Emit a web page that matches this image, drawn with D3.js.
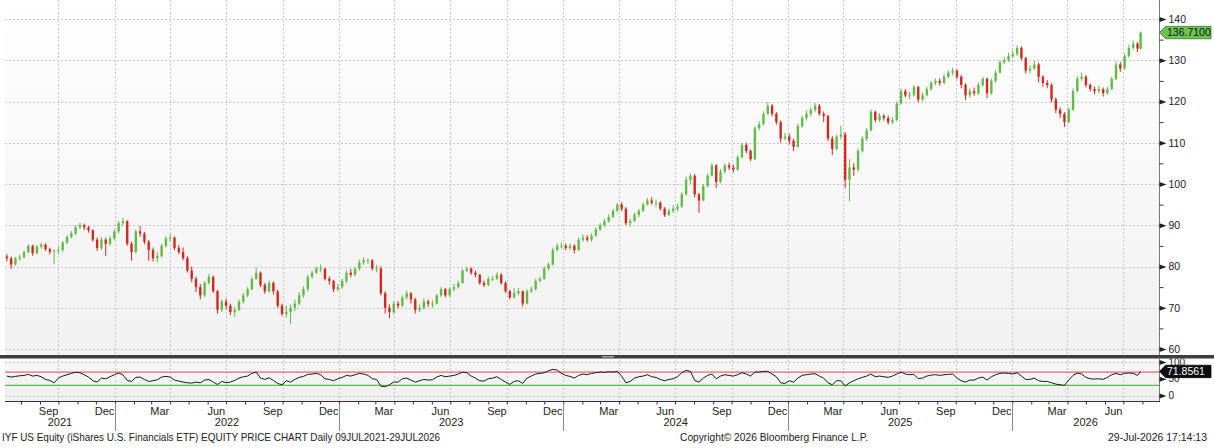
<!DOCTYPE html>
<html>
<head>
<meta charset="utf-8">
<script src="https://cdn.jsdelivr.net/npm/d3@7"></script>
<style>
html, body { margin: 0; padding: 0; background: #fff; }
svg { display: block; font-family: "Liberation Sans", Arial, sans-serif; }
</style>
</head>
<body>
<svg id="chart" width="1214" height="448"></svg>
<script>
// Weekly candles (Friday closes, last one is 29 Jul 2026)
const close2021 = [82.0,80.5,82.0,82.3,83.5,85.0,83.2,84.8,85.3,84.2,83.6,83.8,84.0,85.8,87.2,88.0,89.5,90.0,89.5,88.8,86.5,84.5,86.5,85.5,86.8,88.5];
const close2022 = [90.5,91.0,85.5,83.5,88.5,88.0,86.0,84.0,82.0,82.5,85.0,86.8,87.0,84.5,83.5,82.0,79.0,77.0,75.0,73.0,76.0,77.5,74.0,69.5,71.5,70.5,69.0,69.5,71.5,73.0,74.5,77.0,78.5,75.5,74.0,76.0,74.0,70.5,68.5,69.0,70.0,71.0,73.0,74.5,77.5,78.5,79.5,79.5,77.0,76.5,74.5,75.0];
const close2023 = [76.5,78.5,78.0,79.5,81.0,81.5,81.5,79.5,79.5,73.5,70.0,69.0,71.0,70.5,72.5,73.5,72.0,69.5,70.0,71.5,71.0,71.0,73.0,74.5,73.0,74.5,75.0,76.0,79.0,79.5,78.5,78.0,76.0,75.5,77.0,77.0,78.0,76.0,74.0,72.5,73.5,74.0,71.0,74.0,74.5,76.5,77.0,79.5,80.5,84.0,85.0,85.0];
const close2024 = [84.5,85.0,84.0,86.5,87.0,86.5,87.5,89.0,90.0,91.0,92.0,93.5,95.0,94.0,90.5,91.0,92.5,93.5,95.0,96.0,95.5,95.5,94.0,92.5,93.5,94.0,94.5,97.5,101.0,102.0,97.5,96.0,99.5,102.0,104.5,100.5,103.0,104.5,104.0,103.5,106.5,109.5,108.0,106.0,113.5,114.5,117.0,119.0,117.0,115.0,111.0,111.5];
const close2025 = [110.5,109.0,114.0,116.0,117.0,118.0,119.0,117.0,116.5,111.0,108.5,111.5,112.0,101.0,104.0,103.5,108.0,111.0,113.0,117.5,115.5,116.5,116.0,115.0,115.5,119.5,122.5,121.5,121.5,123.5,120.5,121.5,123.0,124.5,125.0,124.5,126.0,127.0,127.5,126.0,124.0,121.5,122.5,122.0,124.0,125.5,122.0,125.0,127.0,129.5,130.0,131.0];
const close2026 = [131.5,133.0,130.5,127.5,128.0,129.0,126.0,124.5,124.0,120.5,118.0,117.0,115.0,118.0,122.5,125.5,126.0,124.0,123.0,122.5,123.0,122.0,123.0,125.5,129.0,128.0,131.0,133.0,134.0,132.8,136.71];

const high2021 = [83.0,82.4,82.3,82.9,83.9,85.4,85.3,85.2,85.8,85.6,84.6,84.2,84.8,86.2,87.6,88.6,90.0,90.6,90.4,89.9,89.0,87.0,87.2,87.0,87.4,89.0];
const high2022 = [91.0,91.8,91.2,86.0,89.0,89.8,88.4,86.4,84.6,83.5,85.6,87.4,87.8,87.3,85.2,84.6,82.5,80.0,77.5,75.8,76.5,78.2,77.8,74.3,72.0,72.2,71.0,70.2,72.0,73.6,75.0,77.6,79.8,78.8,76.0,76.6,76.4,74.3,71.0,70.5,70.8,72.0,73.8,75.2,78.0,79.0,80.0,80.5,79.6,77.6,76.8,75.8];
const high2023 = [77.0,79.0,79.4,80.0,81.6,82.2,82.0,81.8,80.4,80.0,74.0,70.8,71.6,71.6,73.0,74.2,73.8,72.4,70.8,72.2,72.0,71.8,73.4,75.0,74.8,75.0,75.8,76.6,79.4,80.0,79.8,79.0,78.2,76.6,77.6,77.8,78.6,78.4,76.4,74.4,74.8,74.8,74.2,74.5,75.2,77.0,77.6,80.0,81.0,84.6,85.6,85.8];
const high2024 = [85.6,85.6,85.4,87.0,87.8,87.6,88.0,89.5,90.5,91.6,92.6,94.0,95.4,95.6,94.4,91.6,93.0,94.0,95.5,96.6,96.8,96.2,95.8,94.4,94.0,94.8,95.2,98.0,101.8,102.6,102.4,97.8,100.0,102.6,105.0,104.8,103.6,105.0,105.2,104.6,107.0,110.0,110.0,108.4,114.0,115.2,117.6,119.8,119.4,117.4,115.4,112.4];
const high2025 = [112.2,111.0,114.6,116.6,117.8,118.6,119.6,119.4,117.6,116.8,111.6,112.0,114.2,112.6,106.0,105.0,108.6,111.6,113.6,118.0,117.8,117.2,117.0,116.6,116.2,120.0,123.0,123.0,122.4,124.0,123.8,122.2,123.6,125.0,125.6,125.6,126.6,127.6,128.2,127.8,126.4,124.4,123.2,123.4,124.6,126.0,125.8,125.6,127.6,130.0,130.8,131.8];
const high2026 = [132.4,133.6,133.4,130.8,128.8,129.8,129.4,126.4,125.2,124.4,121.0,118.6,117.4,118.6,123.2,126.2,127.0,126.4,124.4,123.6,123.8,123.4,123.6,126.0,129.8,129.6,131.6,133.8,134.8,134.4,137.0];

const low2021 = [81.2,79.4,80.2,81.4,81.9,83.2,82.6,82.9,84.3,83.8,83.0,80.6,83.0,83.6,85.4,86.8,87.6,89.0,88.8,88.2,86.0,83.8,84.0,82.6,85.0,86.4];
const low2022 = [88.0,89.8,85.0,81.4,83.2,87.2,85.4,81.4,81.2,81.0,82.2,84.6,86.0,84.0,83.0,81.5,78.5,76.2,73.8,72.0,72.6,75.6,73.6,68.6,69.0,69.6,68.2,67.8,69.2,71.0,72.6,74.2,76.8,75.0,73.4,73.6,73.2,70.0,68.0,67.6,66.0,69.2,70.6,72.4,74.0,77.0,78.2,78.6,76.6,75.6,73.8,74.0];
const low2023 = [74.6,76.0,77.4,77.6,79.0,80.4,80.6,79.0,78.6,73.0,68.6,67.5,68.4,69.8,70.2,72.0,71.0,68.6,69.0,69.6,70.2,70.0,70.8,72.6,72.6,72.6,74.0,74.6,75.8,78.6,78.0,77.4,75.6,75.0,75.2,76.4,76.8,75.6,73.6,72.0,72.2,73.0,70.3,70.8,73.6,74.2,76.2,76.8,79.0,80.2,83.6,84.4];
const low2024 = [84.0,84.0,83.2,83.8,86.0,86.0,86.0,87.2,88.6,89.6,90.6,91.8,93.2,93.4,90.0,89.6,90.8,92.0,93.2,94.8,95.0,94.4,93.6,92.0,92.2,93.0,93.4,94.2,97.2,100.0,96.8,93.0,95.8,99.2,101.8,99.0,100.2,102.6,103.4,102.8,103.2,106.2,107.4,105.6,105.8,113.0,114.2,116.8,116.4,114.4,110.0,110.6];
const low2025 = [109.6,108.0,108.8,113.6,115.4,116.4,117.4,116.6,115.0,110.4,107.0,108.2,110.8,99.0,95.8,102.0,103.0,107.6,110.4,112.8,115.0,115.0,115.4,114.4,114.6,115.2,119.2,121.0,120.6,121.2,119.8,120.0,121.2,122.6,124.0,123.8,124.2,125.6,126.4,125.4,123.2,120.4,121.0,121.4,121.6,123.6,120.8,121.6,124.6,126.8,129.0,129.6];
const low2026 = [130.4,131.0,130.0,126.8,126.8,127.6,124.6,123.6,123.2,119.8,117.2,116.0,113.8,114.8,117.8,122.2,125.0,123.4,122.4,121.8,122.0,121.2,121.6,122.8,125.2,127.2,127.8,130.6,132.6,132.0,132.6];

// RSI panel, same weeks
const rsi2021 = [58,55,57,59,60,63,58,60,56,48,45,38,52,58,62,66,69,68,62,55,44,40,52,50,56,62];
const rsi2022 = [67,62,45,42,54,55,48,42,44,47,55,57,55,46,43,40,38,37,40,38,46,48,40,33,42,38,40,45,52,56,58,66,70,52,48,53,45,36,32,44,40,48,54,57,63,64,66,62,50,48,44,50];
const rsi2023 = [54,60,58,62,66,64,60,50,48,28,26,32,40,40,50,52,46,40,44,48,46,47,55,60,56,58,60,64,70,68,58,52,44,43,50,52,56,48,40,33,42,44,36,52,58,64,66,68,74,78,76,66];
const rsi2024 = [60,57,52,60,64,62,66,68,70,69,71,70,72,58,38,42,52,56,58,62,56,54,48,44,48,50,56,68,75,72,45,40,52,60,64,50,58,62,60,58,62,68,64,58,70,70,72,72,64,56,38,36];
const rsi2025 = [44,40,52,60,62,64,65,58,52,38,32,44,44,28,38,44,50,54,58,64,56,58,56,54,58,64,70,64,62,63,50,52,58,61,62,60,62,63,64,52,44,40,46,46,52,55,46,56,62,66,67,66];
const rsi2026 = [64,68,58,48,48,52,44,42,42,38,34,32,30,46,60,67,64,54,50,49,50,48,54,62,66,62,66,67,66,60,71.8561];

const priceTicks = [60, 70, 80, 90, 100, 110, 120, 130, 140];
const rsiTicks = [0, 50, 100];
const monthLabels = ["Mar", "Jun", "Sep", "Dec"];
const titleText = "IYF US Equity (iShares U.S. Financials ETF) EQUITY PRICE CHART Daily 09JUL2021-29JUL2026";
const copyText = "Copyright\u00A9 2026 Bloomberg Finance L.P.";
const stampText = "29-Jul-2026 17:14:13";

const closes = [].concat(close2021, close2022, close2023, close2024, close2025, close2026);
const highs = [].concat(high2021, high2022, high2023, high2024, high2025, high2026);
const lows = [].concat(low2021, low2022, low2023, low2024, low2025, low2026);
const rsis = [].concat(rsi2021, rsi2022, rsi2023, rsi2024, rsi2025, rsi2026);

const firstWeek = new Date(2021, 6, 9);
const lastDay = new Date(2026, 6, 29);

const data = closes.map((c, i) => ({
    date: i < closes.length - 1 ? d3.timeDay.offset(firstWeek, 7 * i) : lastDay,
    open: i === 0 ? 82.4 : closes[i - 1],
    close: c,
    high: highs[i],
    low: lows[i],
    rsi: rsis[i]
}));

// layout
const plotL = 5, plotR = 1159;
const mainBot = 355, rsiTop = 358.5, rsiBot = 401.5;
const green = "#62bb47", red = "#d3291f";
const font = '"Liberation Sans", Arial, sans-serif';

const x = d3.scaleTime()
    .domain([new Date(2021, 6, 6), new Date(2026, 7, 28)])
    .range([plotL, plotR]);
const y = d3.scaleLinear().domain([60, 140]).range([349, 19]);
const yr = d3.scaleLinear().domain([0, 100]).range([395.5, 362]);

const svg = d3.select("#chart");
const defs = svg.append("defs");

const g1 = defs.append("linearGradient").attr("id", "bgMain").attr("x1", 0).attr("y1", 0).attr("x2", 0).attr("y2", 1);
g1.append("stop").attr("offset", "0%").attr("stop-color", "#ffffff");
g1.append("stop").attr("offset", "100%").attr("stop-color", "#f1f1f1");
const g2 = defs.append("linearGradient").attr("id", "bgRsi").attr("x1", 0).attr("y1", 0).attr("x2", 0).attr("y2", 1);
g2.append("stop").attr("offset", "0%").attr("stop-color", "#f8f8f8");
g2.append("stop").attr("offset", "100%").attr("stop-color", "#eeeeee");

defs.append("clipPath").attr("id", "clipMain").append("rect")
    .attr("x", plotL).attr("y", 0).attr("width", plotR - plotL).attr("height", mainBot);
defs.append("clipPath").attr("id", "clipRsi").append("rect")
    .attr("x", plotL).attr("y", rsiTop).attr("width", plotR - plotL).attr("height", rsiBot - rsiTop);
defs.append("clipPath").attr("id", "clipRsiAxis").append("rect")
    .attr("x", plotR).attr("y", rsiTop).attr("width", 60).attr("height", rsiBot - rsiTop + 2);

// backgrounds
svg.append("rect").attr("x", plotL).attr("y", 0).attr("width", plotR - plotL).attr("height", mainBot)
    .attr("fill", "url(#bgMain)");
svg.append("rect").attr("x", plotL).attr("y", rsiTop).attr("width", plotR - plotL).attr("height", rsiBot - rsiTop)
    .attr("fill", "url(#bgRsi)");

// grid
const quarters = x.ticks(d3.timeMonth.every(3));
svg.append("g").selectAll("line").data(quarters).enter().append("line")
    .attr("x1", d => Math.round(x(d)) + 0.5).attr("x2", d => Math.round(x(d)) + 0.5)
    .attr("y1", 0).attr("y2", rsiBot)
    .attr("stroke", "#c9c9c9").attr("stroke-dasharray", "2,2");

svg.append("g").selectAll("line").data(priceTicks).enter().append("line")
    .attr("x1", plotL).attr("x2", plotR)
    .attr("y1", d => Math.round(y(d)) + 0.5).attr("y2", d => Math.round(y(d)) + 0.5)
    .attr("stroke", "#c9c9c9").attr("stroke-dasharray", "2,2");

svg.append("g").selectAll("line").data([0, 100]).enter().append("line")
    .attr("x1", plotL).attr("x2", plotR)
    .attr("y1", d => Math.round(yr(d)) + 0.5).attr("y2", d => Math.round(yr(d)) + 0.5)
    .attr("stroke", "#c9c9c9").attr("stroke-dasharray", "2,2");

// candles
const cg = svg.append("g").attr("clip-path", "url(#clipMain)");
const bw = 2.4;
cg.selectAll("line.wick").data(data).enter().append("line")
    .attr("class", "wick")
    .attr("x1", d => x(d.date)).attr("x2", d => x(d.date))
    .attr("y1", d => y(d.high)).attr("y2", d => y(d.low))
    .attr("stroke", d => d.close >= d.open ? green : red)
    .attr("stroke-width", 1);
cg.selectAll("rect.body").data(data).enter().append("rect")
    .attr("class", "body")
    .attr("x", d => x(d.date) - bw / 2)
    .attr("y", d => y(Math.max(d.open, d.close)))
    .attr("width", bw)
    .attr("height", d => Math.max(1, Math.abs(y(d.open) - y(d.close))))
    .attr("fill", d => d.close >= d.open ? green : red);

// RSI panel
const rg = svg.append("g").attr("clip-path", "url(#clipRsi)");
rg.append("line").attr("x1", plotL).attr("x2", plotR).attr("y1", yr(70)).attr("y2", yr(70))
    .attr("stroke", "#e46a6a").attr("stroke-width", 1.3);
rg.append("line").attr("x1", plotL).attr("x2", plotR).attr("y1", yr(30)).attr("y2", yr(30))
    .attr("stroke", "#5cbf48").attr("stroke-width", 1.3);
rg.append("path").datum(data)
    .attr("fill", "none").attr("stroke", "#1c1c1c").attr("stroke-width", 1)
    .attr("d", d3.line().x(d => x(d.date)).y(d => yr(d.rsi)));

// separator bar between the panels
svg.append("rect").attr("x", 0).attr("y", mainBot).attr("width", 1214).attr("height", rsiTop - mainBot)
    .attr("fill", "#3d3d3d");
svg.append("rect").attr("x", 602).attr("y", mainBot + 1).attr("width", 12).attr("height", 1.5)
    .attr("fill", "#a0a0a0");

// right axis lines and bottom line
svg.append("line").attr("x1", plotR + 0.5).attr("x2", plotR + 0.5).attr("y1", 0).attr("y2", mainBot)
    .attr("stroke", "#7a7a7a");
svg.append("line").attr("x1", plotR + 0.5).attr("x2", plotR + 0.5).attr("y1", rsiTop).attr("y2", rsiBot)
    .attr("stroke", "#7a7a7a");
svg.append("line").attr("x1", plotL).attr("x2", plotR + 1).attr("y1", rsiBot).attr("y2", rsiBot)
    .attr("stroke", "#333").attr("stroke-width", 1.2);

// price axis
function styleAxis(g) {
    g.attr("font-family", font).attr("font-size", 10.5);
    g.select(".domain").remove();
    g.selectAll(".tick text").attr("fill", "#222");
}
const yAxisG = svg.append("g").attr("transform", `translate(${plotR + 0.5},0)`)
    .call(d3.axisRight(y).tickValues(priceTicks).tickSize(0).tickPadding(9))
    .call(styleAxis);
yAxisG.selectAll(".tick").append("path").attr("d", "M0,-2.5L7,0L0,2.5Z").attr("fill", "#222");
svg.append("g").attr("transform", `translate(${plotR + 0.5},0)`)
    .call(d3.axisRight(y).tickValues(d3.range(65, 140, 10)).tickSize(4).tickFormat(""))
    .call(styleAxis)
    .selectAll(".tick line").attr("stroke", "#333");

// RSI axis (the tag below hides most of the 50 label, as on the terminal)
const rAxisG = svg.append("g").attr("clip-path", "url(#clipRsiAxis)")
    .append("g").attr("transform", `translate(${plotR + 0.5},0)`)
    .call(d3.axisRight(yr).tickValues(rsiTicks).tickSize(0).tickPadding(9))
    .call(styleAxis);
rAxisG.selectAll(".tick").append("path").attr("d", "M0,-2.5L7,0L0,2.5Z").attr("fill", "#222");
rAxisG.selectAll(".tick text").attr("font-size", 10);

// last value tags
function tag(yc, fill, stroke, txtFill, label) {
    const h = 6.2, x0 = plotR + 0.5, tip = 6, x1 = 1211;
    svg.append("path")
        .attr("d", `M${x0},${yc}L${x0 + tip},${yc - h}L${x1},${yc - h}L${x1},${yc + h}L${x0 + tip},${yc + h}Z`)
        .attr("fill", fill).attr("stroke", stroke).attr("stroke-width", 0.8);
    svg.append("text").attr("x", x0 + tip + 1.5).attr("y", yc).attr("dy", "0.35em")
        .attr("font-family", font).attr("font-size", 10.5).attr("fill", txtFill)
        .text(label);
}
const last = data[data.length - 1];
tag(y(last.close), "#6cc352", "#3d7d2a", "#111", last.close.toFixed(4));
tag(yr(last.rsi), "#0c0c0c", "#0c0c0c", "#fff", last.rsi.toFixed(4));

// time axis: month ticks, quarter labels, years
svg.append("g").attr("transform", `translate(0,${rsiBot})`)
    .call(d3.axisBottom(x).ticks(d3.timeMonth.every(1)).tickSize(3).tickFormat(""))
    .call(g => g.select(".domain").remove())
    .selectAll(".tick line").attr("stroke", "#333");

const fmtMonth = d3.timeFormat("%b");
const months = x.ticks(d3.timeMonth.every(1))
    .filter(d => monthLabels.includes(fmtMonth(d)) && x(d3.timeDay.offset(d, 15)) < plotR);
svg.append("g").selectAll("text").data(months).enter().append("text")
    .attr("x", d => x(d3.timeDay.offset(d, 14)))
    .attr("y", 414.5)
    .attr("text-anchor", "middle")
    .attr("font-family", font).attr("font-size", 11).attr("fill", "#222")
    .text(d => fmtMonth(d));

const [d0, d1] = x.domain();
const years = d3.timeYear.range(d3.timeYear.floor(d0), d1);
svg.append("g").selectAll("text").data(years).enter().append("text")
    .attr("x", d => {
        const a = Math.max(x(d), plotL);
        const b = Math.min(x(d3.timeYear.offset(d, 1)), plotR);
        return (a + b) / 2;
    })
    .attr("y", 425.5)
    .attr("text-anchor", "middle")
    .attr("font-family", font).attr("font-size", 11).attr("fill", "#222")
    .text(d => d.getFullYear());
svg.append("g").selectAll("line").data(years.filter(d => d > d0)).enter().append("line")
    .attr("x1", d => Math.round(x(d)) + 0.5).attr("x2", d => Math.round(x(d)) + 0.5)
    .attr("y1", rsiBot + 2).attr("y2", 431)
    .attr("stroke", "#8a8a8a");

// footer
svg.append("text").attr("x", 2).attr("y", 441)
    .attr("font-family", font).attr("font-size", 11).attr("fill", "#222")
    .attr("textLength", 438).attr("lengthAdjust", "spacingAndGlyphs")
    .text(titleText);
svg.append("text").attr("x", 680).attr("y", 441)
    .attr("font-family", font).attr("font-size", 11).attr("fill", "#222")
    .attr("textLength", 188).attr("lengthAdjust", "spacingAndGlyphs")
    .text(copyText);
svg.append("text").attr("x", 1108).attr("y", 441)
    .attr("font-family", font).attr("font-size", 11).attr("fill", "#222")
    .attr("textLength", 99).attr("lengthAdjust", "spacingAndGlyphs")
    .text(stampText);
</script>
</body>
</html>
